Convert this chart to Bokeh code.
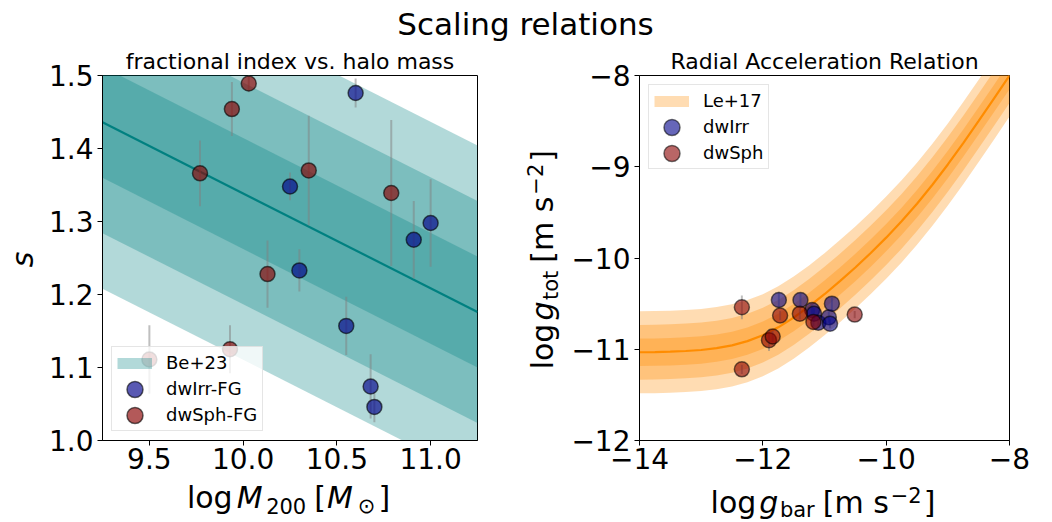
import math
import numpy as np
from bokeh.plotting import figure
from bokeh.models import Range1d, FixedTicker, Label, Legend, LegendItem
from bokeh.layouts import column, row
from bokeh.embed import file_html
from bokeh.resources import INLINE

# ---------------- data ----------------
# Left panel: fractional index s vs. log M200
irr_logM200 = [10.60, 10.25, 10.30, 10.91, 11.00, 10.55, 10.68, 10.70]
irr_s = [1.476, 1.348, 1.233, 1.275, 1.298, 1.157, 1.074, 1.046]
irr_s_err = [0.020, 0.019, 0.029, 0.053, 0.060, 0.040, 0.044, 0.021]

sph_logM200 = [10.03, 9.94, 9.77, 10.35, 10.79, 10.13, 9.93, 9.50]
sph_s = [1.489, 1.454, 1.366, 1.370, 1.339, 1.228, 1.125, 1.111]
sph_s_err = [0.012, 0.037, 0.045, 0.075, 0.100, 0.046, 0.033, 0.047]

be23_logM200 = [9.25, 11.25]
be23_s = [1.436, 1.176]
be23_sigma = [0.076, 0.152, 0.228]

# Right panel: radial acceleration relation
rar_gbar = [-14.0, -13.75, -13.5, -13.25, -13.0, -12.75, -12.5, -12.25, -12.0,
            -11.75, -11.5, -11.25, -11.0, -10.75, -10.5, -10.25, -10.0, -9.75,
            -9.5, -9.25, -9.0, -8.75, -8.5, -8.25, -8.0]
rar_gtot = [-11.033, -11.031, -11.027, -11.019, -11.008, -10.988, -10.958, -10.911,
            -10.846, -10.760, -10.653, -10.531, -10.397, -10.254, -10.104, -9.945,
            -9.777, -9.598, -9.405, -9.197, -8.975, -8.741, -8.497, -8.250, -8.000]
le17_sigma = [0.15, 0.30, 0.45]

irr_gbar = [-11.74, -11.39, -11.20, -11.17, -11.10, -10.93, -10.91, -10.88]
irr_gtot = [-10.46, -10.46, -10.57, -10.61, -10.71, -10.65, -10.72, -10.50]
irr_gtot_err = [0.09, 0.08, 0.06, 0.06, 0.05, 0.06, 0.05, 0.07]

sph_gbar = [-12.34, -12.34, -11.72, -11.40, -11.18, -10.51, -11.90, -11.84]
sph_gtot = [-10.54, -11.22, -10.63, -10.61, -10.70, -10.62, -10.90, -10.86]
sph_gtot_err = [0.13, 0.05, 0.05, 0.06, 0.05, 0.04, 0.12, 0.06]

# ticks
left_xticks = [9.5, 10.0, 10.5, 11.0]
left_xtick_labels = ["9.5", "10.0", "10.5", "11.0"]
left_yticks = [1.0, 1.1, 1.2, 1.3, 1.4, 1.5]
left_ytick_labels = ["1.0", "1.1", "1.2", "1.3", "1.4", "1.5"]
right_xticks = [-14, -12, -10, -8]
right_xtick_labels = ["\u221214", "\u221212", "\u221210", "\u22128"]
right_yticks = [-12, -11, -10, -9, -8]
right_ytick_labels = ["\u221212", "\u221211", "\u221210", "\u22129", "\u22128"]

# ---------------- styling helpers ----------------
FONT = "DejaVu Sans"
BASE_K = 0.36  # baseline compensation (fraction of font size)
W_EM = {' ': 0.318, '[': 0.390, ']': 0.390, 'l': 0.278, 'o': 0.612, 'g': 0.635,
        'M': 0.863, '0': 0.636, '2': 0.636, 'b': 0.635, 'a': 0.613, 'r': 0.411,
        't': 0.392, 'm': 0.974, 's': 0.521, '\u2212': 0.838, '\u2299': 0.838}


def text_width(s, size):
    return sum(W_EM.get(ch, 0.6) for ch in s) * size


def rich_label(p, runs, x, y, angle=0.0):
    total = sum(text_width(t, sz) + gap for t, sz, it, sh, gap in runs) - runs[-1][4]
    c, s_ = math.cos(angle), math.sin(angle)
    pos = -total / 2.0
    for t, sz, it, sh, gap in runs:
        up = sh + BASE_K * sz
        p.add_layout(Label(x=x + c * pos - s_ * up, y=y + s_ * pos + c * up,
                           x_units="screen", y_units="screen", text=t, angle=angle,
                           text_font=FONT, text_font_size=f"{sz}px",
                           text_font_style="italic" if it else "normal",
                           text_color="black", text_align="left",
                           text_baseline="alphabetic"))
        pos += text_width(t, sz) + gap


def strip(w, h):
    f = figure(width=w, height=h, x_range=Range1d(0, w), y_range=Range1d(0, h),
               toolbar_location=None, output_backend="svg", x_axis_location=None,
               y_axis_location=None, min_border=0, outline_line_color=None)
    for g in f.grid:
        g.visible = False
    return f


def style_axes(p, xt, xl, yt, yl, title):
    p.xaxis.ticker = FixedTicker(ticks=xt)
    p.yaxis.ticker = FixedTicker(ticks=yt)
    p.xaxis.major_label_overrides = {t: l for t, l in zip(xt, xl)}
    p.yaxis.major_label_overrides = {t: l for t, l in zip(yt, yl)}
    for ax in p.axis:
        ax.axis_line_color = "black"
        ax.axis_line_width = 1
        ax.major_tick_line_color = "black"
        ax.major_tick_line_width = 1
        ax.major_tick_out = 5
        ax.major_tick_in = 0
        ax.minor_tick_line_color = None
        ax.major_label_text_font = FONT
        ax.major_label_text_font_size = "28px"
        ax.major_label_text_color = "black"
    p.xaxis.major_label_standoff = 2
    p.yaxis.major_label_standoff = 4
    p.xgrid.visible = False
    p.ygrid.visible = False
    p.outline_line_color = "black"
    p.outline_line_width = 1
    p.outline_line_alpha = 1.0
    p.title.text = title
    p.title.align = "center"
    p.title.text_font = FONT
    p.title.text_font_size = "22px"
    p.title.text_font_style = "normal"
    p.title.text_color = "black"
    p.title.standoff = 4


def style_legend(leg):
    leg.glyph_width = 35
    leg.glyph_height = 20
    leg.label_height = 20
    leg.label_standoff = 14
    leg.padding = 5
    leg.spacing = 5
    leg.margin = 9
    leg.label_text_font = FONT
    leg.label_text_font_size = "18px"
    leg.label_text_color = "black"
    leg.border_line_color = "#cccccc"
    leg.border_line_width = 1
    leg.background_fill_color = "white"
    leg.background_fill_alpha = 0.8


TOP_H, ROW_H, BOT_H = 44, 436, 42

# ---------------- top title ----------------
top = strip(1052, TOP_H)
top.add_layout(Label(x=525, y=9 + BASE_K * 31, x_units="screen", y_units="screen",
                     text="Scaling relations", text_align="center",
                     text_baseline="alphabetic", text_font=FONT,
                     text_font_size="31px", text_color="black"))

# ---------------- left panel ----------------
p1 = figure(width=475, height=ROW_H, x_range=Range1d(9.25, 11.25),
            y_range=Range1d(1.0, 1.5), toolbar_location=None, output_backend="svg",
            min_border_left=57, min_border_right=43, min_border_top=31,
            min_border_bottom=40)
style_axes(p1, left_xticks, left_xtick_labels, left_yticks, left_ytick_labels,
           "fractional index vs. halo mass")

fx = np.array(be23_logM200)
fs = np.array(be23_s)
for w in reversed(be23_sigma):
    p1.varea(x=fx, y1=fs - w, y2=fs + w, fill_color="teal", fill_alpha=0.3)
p1.line(fx, fs, line_color="teal", line_width=2.2)
be23_proxy = p1.line(fx, fs, line_color="teal", line_alpha=0.3, line_width=11, visible=False)

for xs, ys, es in ((irr_logM200, irr_s, irr_s_err), (sph_logM200, sph_s, sph_s_err)):
    xa, ya, ea = np.array(xs), np.array(ys), np.array(es)
    p1.segment(x0=xa, y0=ya - ea, x1=xa, y1=ya + ea, line_color="grey",
               line_alpha=0.5, line_width=2)

r_irr1 = p1.ellipse(x=irr_logM200, y=irr_s, width=15, height=15, width_units="screen",
                    height_units="screen", fill_color="darkblue", fill_alpha=0.65,
                    line_color="black", line_alpha=0.6, line_width=1.5)
r_sph1 = p1.ellipse(x=sph_logM200, y=sph_s, width=15, height=15, width_units="screen",
                    height_units="screen", fill_color="darkred", fill_alpha=0.65,
                    line_color="black", line_alpha=0.6, line_width=1.5)

leg1 = Legend(items=[LegendItem(label="Be+23", renderers=[be23_proxy]),
                     LegendItem(label="dwIrr-FG", renderers=[r_irr1]),
                     LegendItem(label="dwSph-FG", renderers=[r_sph1])],
              location="bottom_left")
style_legend(leg1)
p1.add_layout(leg1)

# ---------------- right panel ----------------
p2 = figure(width=487, height=ROW_H, x_range=Range1d(-14, -8),
            y_range=Range1d(-12, -8), toolbar_location=None, output_backend="svg",
            min_border_left=74, min_border_right=43, min_border_top=31,
            min_border_bottom=40)
style_axes(p2, right_xticks, right_xtick_labels, right_yticks, right_ytick_labels,
           "Radial Acceleration Relation")

gx = np.array(rar_gbar)
gy = np.array(rar_gtot)
for d in reversed(le17_sigma):
    p2.varea(x=gx, y1=gy - d, y2=gy + d, fill_color="darkorange", fill_alpha=0.3)
p2.line(gx, gy, line_color="darkorange", line_width=2.2)
le17_proxy = p2.line(gx, gy, line_color="darkorange", line_alpha=0.3, line_width=11,
                     visible=False)

for xs, ys, es in ((irr_gbar, irr_gtot, irr_gtot_err), (sph_gbar, sph_gtot, sph_gtot_err)):
    xa, ya, ea = np.array(xs), np.array(ys), np.array(es)
    p2.segment(x0=xa, y0=ya - ea, x1=xa, y1=ya + ea, line_color="grey",
               line_alpha=0.5, line_width=2)

r_irr2 = p2.ellipse(x=irr_gbar, y=irr_gtot, width=15, height=15, width_units="screen",
                    height_units="screen", fill_color="darkblue", fill_alpha=0.6,
                    line_color="black", line_alpha=0.55, line_width=1.5)
r_sph2 = p2.ellipse(x=sph_gbar, y=sph_gtot, width=15, height=15, width_units="screen",
                    height_units="screen", fill_color="darkred", fill_alpha=0.6,
                    line_color="black", line_alpha=0.55, line_width=1.5)

leg2 = Legend(items=[LegendItem(label="Le+17", renderers=[le17_proxy]),
                     LegendItem(label="dwIrr", renderers=[r_irr2]),
                     LegendItem(label="dwSph", renderers=[r_sph2])],
              location="top_left")
style_legend(leg2)
p2.add_layout(leg2)

# ---------------- axis-label strips ----------------
# (strip frames in the row are aligned with the panel frames: y measured from frame bottom)
yl1 = strip(45, ROW_H)
rich_label(yl1, [("s", 30, True, 0, 0)], x=33, y=181, angle=math.pi / 2)

yl2 = strip(45, ROW_H)
rich_label(yl2, [("log", 30, False, 0, 3), ("g", 30, True, 0, 1.5),
                 ("tot", 21, False, -4.7, 8), ("[m", 30, False, 0, 9.5),
                 ("s", 30, False, 0, 2), ("\u22122", 21, False, 11, 2),
                 ("]", 30, False, 0, 0)], x=33, y=180.8, angle=math.pi / 2)

bot = strip(1052, BOT_H)
rich_label(bot, [("log", 30, False, 0, 4), ("M", 30, True, 0, 3.6),
                 ("200", 21, False, -4.7, 8), ("[", 30, False, 0, 1),
                 ("M", 30, True, 0, 5), ("\u2299", 21, False, -4.7, 3),
                 ("]", 30, False, 0, 0)], x=288, y=14)
rich_label(bot, [("log", 30, False, 0, 3), ("g", 30, True, 0, 1.5),
                 ("bar", 21, False, -4.7, 8), ("[m", 30, False, 0, 9.5),
                 ("s", 30, False, 0, 2), ("\u22122", 21, False, 11, 2),
                 ("]", 30, False, 0, 0)], x=822.5, y=9.3)

layout = column(top, row(yl1, p1, yl2, p2, spacing=0), bot, spacing=0)
open("out.html", "w").write(file_html(layout, INLINE))
